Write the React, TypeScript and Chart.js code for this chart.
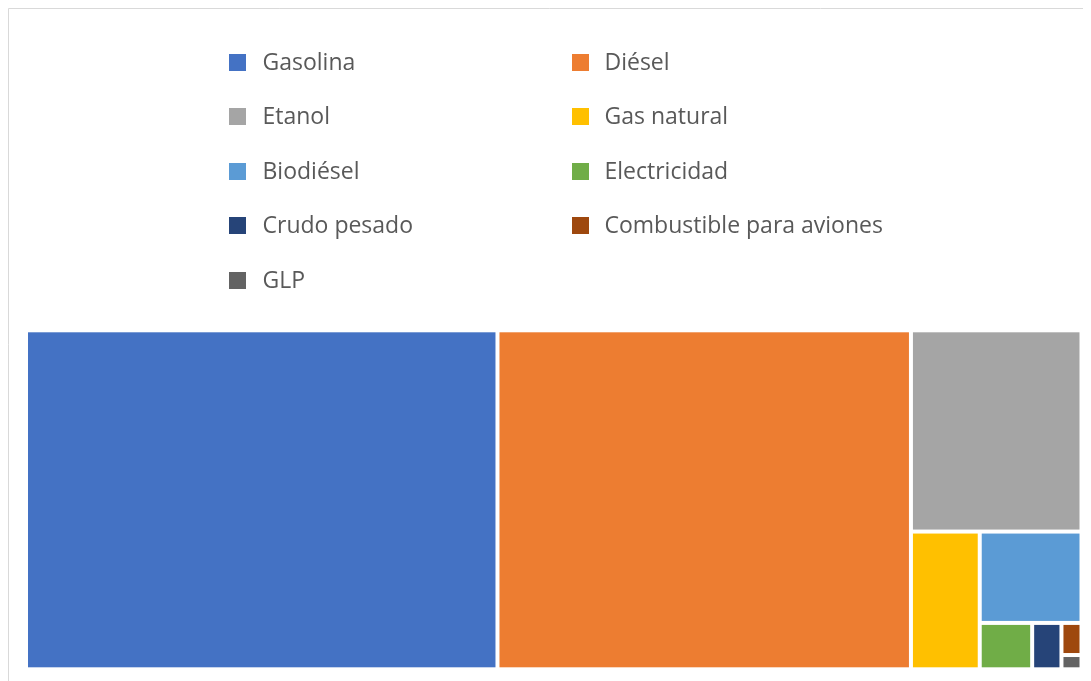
import React, { useEffect, useRef } from "react";
import { Chart, registerables } from "chart.js";

Chart.register(...registerables);

const labels = [
  "Gasolina",
  "Diésel",
  "Etanol",
  "Gas natural",
  "Biodiésel",
  "Electricidad",
  "Crudo pesado",
  "Combustible para aviones",
  "GLP",
];
const values = [44.7, 39.2, 9.6, 2.65, 2.6, 0.68, 0.38, 0.18, 0.08];
const colors = [
  "#4472C4",
  "#ED7D31",
  "#A5A5A5",
  "#FFC000",
  "#5B9BD5",
  "#70AD47",
  "#264478",
  "#9E480E",
  "#636363",
];

const W = 1083;
const H = 673;

type R = { x: number; y: number; w: number; h: number };

function layout(vals: number[], pw: number, ph: number): R[] {
  const out: R[] = [];
  let x = 0, y = 0, w = 1, h = 1;
  for (let i = 0; i < vals.length; i++) {
    let rem = 0;
    for (let j = i; j < vals.length; j++) rem += vals[j];
    const f = vals[i] / rem;
    if (w * pw >= h * ph) {
      const cw = w * f;
      out.push({ x, y, w: cw, h });
      x += cw;
      w -= cw;
    } else {
      const ch = h * f;
      out.push({ x, y, w, h: ch });
      y += ch;
      h -= ch;
    }
  }
  return out;
}

const treemapPlugin = {
  id: "treemapDraw",
  beforeDraw(chart: any) {
    const ctx = chart.ctx;
    ctx.save();
    ctx.fillStyle = "#ffffff";
    ctx.fillRect(0, 0, chart.width, chart.height);
    ctx.strokeStyle = "#D9D9D9";
    ctx.lineWidth = 1;
    ctx.beginPath();
    ctx.moveTo(0.5, chart.height);
    ctx.lineTo(0.5, 0.5);
    ctx.lineTo(chart.width, 0.5);
    ctx.stroke();
    ctx.restore();
  },
  afterDatasetsDraw(chart: any) {
    const ctx = chart.ctx;
    const xs = chart.scales.x;
    const ys = chart.scales.y;
    const area = chart.chartArea;
    const rects = layout(values, area.right - area.left, area.bottom - area.top);
    const gap = 2;
    ctx.save();
    rects.forEach((r, i) => {
      const x0 = xs.getPixelForValue(r.x);
      const x1 = xs.getPixelForValue(r.x + r.w);
      const y0 = ys.getPixelForValue(r.y);
      const y1 = ys.getPixelForValue(r.y + r.h);
      ctx.fillStyle = colors[i];
      ctx.fillRect(x0 + gap, y0 + gap, x1 - x0 - 2 * gap, y1 - y0 - 2 * gap);
    });
    ctx.restore();

    // legend (two columns)
    ctx.save();
    ctx.font = "23px 'Open Sans'";
    ctx.textBaseline = "middle";
    ctx.textAlign = "left";
    const colMarker = [221, 564];
    const colText = [254.5, 596.5];
    const rowY0 = 54.3;
    const rowStep = 54.5;
    const box = 17;
    labels.forEach((l, i) => {
      const c = i % 2;
      const r = Math.floor(i / 2);
      const cy = rowY0 + r * rowStep;
      ctx.fillStyle = colors[i];
      ctx.fillRect(colMarker[c], Math.round(cy - box / 2), box, box);
      ctx.fillStyle = "#595959";
      ctx.fillText(l, colText[c], cy + 1);
    });
    ctx.restore();
  },
};

export default function App() {
  const ref = useRef<HTMLCanvasElement | null>(null);
  useEffect(() => {
    if (!ref.current) return;
    const chart = new Chart(ref.current, {
      type: "scatter",
      data: {
        datasets: labels.map((l, i) => ({
          label: l,
          data: [],
          backgroundColor: colors[i],
        })),
      },
      options: {
        animation: false,
        responsive: false,
        layout: {
          padding: { left: 18, right: 9.5, top: 322.3, bottom: 11.7 },
        },
        scales: {
          x: { type: "linear", min: 0, max: 1, display: false },
          y: { type: "linear", min: 0, max: 1, reverse: true, display: false },
        },
        plugins: {
          legend: { display: false },
          tooltip: { enabled: false },
        },
      },
      plugins: [treemapPlugin],
    });
    return () => chart.destroy();
  }, []);
  return (
    <div style={{ width: W, height: H }}>
      <canvas ref={ref} width={W} height={H} style={{ display: "block" }} />
    </div>
  );
}
